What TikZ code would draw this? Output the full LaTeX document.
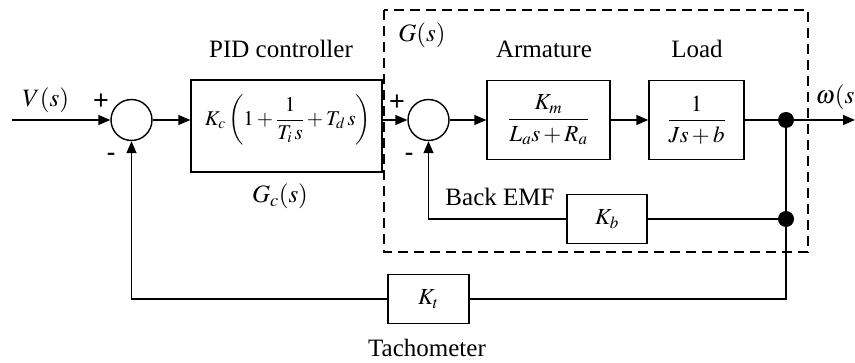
\documentclass[tikz,border=0pt]{standalone}
\usepackage{mathptmx}
\usepackage[no-math]{fontspec}
\setmainfont{Liberation Serif}
\newfontfamily\signfont{Liberation Sans}
\usetikzlibrary{arrows.meta,calc}
\begin{document}
\begin{tikzpicture}[x=1pt,y=-1pt, line width=1.4pt,
  every node/.style={font=\fontsize{25}{30}\selectfont, inner sep=0pt},
  blk/.style={draw, rectangle, line width=1.4pt},
  sumc/.style={draw, circle, minimum size=41pt, line width=1.4pt},
  dotc/.style={fill, circle, minimum size=16pt},
  sig/.style={font=\signfont\fontsize{27}{30}\selectfont},
  arr/.style={-{Triangle[length=12pt,width=10pt]}},
  mth/.style={font=\fontsize{23}{28}\selectfont},
  lbl/.style={anchor=base}]
\useasboundingbox (0,0) rectangle (855,363);

% dashed plant boundary
\draw[line width=1.4pt, dash pattern=on 10pt off 6pt] (384,10) rectangle (808,252);

% blocks
\coordinate (in) at (12,120);
\node[sumc] (s1) at (131.5,120) {};
\node[blk, minimum width=191pt, minimum height=92pt] (pid) at (286.5,126) {};
\node[font=\fontsize{21}{26}\selectfont] (pidtf) at (288,120) {$K_c\left(1+\displaystyle\frac{1}{T_i\, s}+T_d\, s\right)$};
\node[sumc] (s2) at (428.5,120) {};
\node[blk, minimum width=123pt, minimum height=79pt, mth] (arm) at (548.5,120) {$\displaystyle\frac{K_m}{L_a s+R_a}$};
\node[blk, minimum width=95pt, minimum height=79pt, mth] (load) at (696.5,120) {$\displaystyle\frac{1}{Js+b}$};
\node[dotc] (d1) at (786,120) {};
\node[dotc] (d2) at (786,219) {};
\node[blk, minimum width=80pt, minimum height=49pt, mth] (kb) at (607,219) {$K_b$};
\node[blk, minimum width=81pt, minimum height=49pt, mth] (kt) at (428.5,299) {$K_t$};
\coordinate (out) at (855,120);

% labels
\node[anchor=base west] (vlab) at (22,107) {$V(s)$};
\node[lbl] (pidlab) at (281,58) {PID controller};
\node[lbl] (gclab) at (280,203) {$G_c(s)$};
\node[lbl] (glab) at (422,42) {$G(s)$};
\node[lbl] (armlab) at (544,58) {Armature};
\node[lbl] (loadlab) at (697,58) {Load};
\node[lbl] (emflab) at (500,206) {Back EMF};
\node[lbl] (tachlab) at (427,357) {Tachometer};
\node[anchor=base west] (wlab) at (815,104) {$\omega(s)$};
\node[sig] (p1) at (101,102) {+};
\node[sig] (m1) at (111,157) {-};
\node[sig] (p2) at (397,103) {+};
\node[sig] (m2) at (409,157) {-};

% forward path
\draw[arr] (in) -- (s1.west);
\draw[arr] (s1.east) -- (s1.east -| pid.west);
\draw[arr] (s1.east -| pid.east) -- (s2.west);
\draw[arr] (s2.east) -- (arm.west);
\draw[arr] (arm.east) -- (load.west);
\draw (load.east) -- (d1.center);
\draw[arr] (d1.center) -- (out);

% back EMF loop
\draw (d1.center) -- (d2.center);
\draw (d2.center) -- (kb.east);
\draw[arr] (kb.west) -- (kb.west -| s2.south) -- (s2.south);

% tachometer loop
\draw (d2.center) -- (d2.center |- kt.east) -- (kt.east);
\draw[arr] (kt.west) -- (kt.west -| s1.south) -- (s1.south);
\end{tikzpicture}
\end{document}
